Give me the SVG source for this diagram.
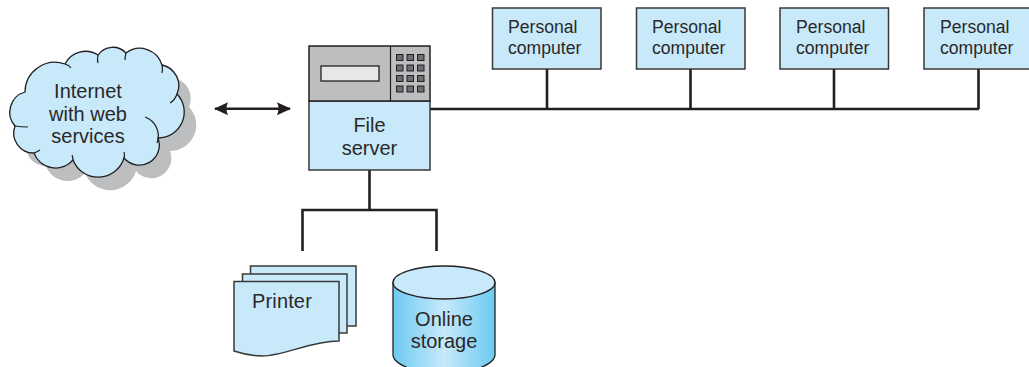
<svg xmlns="http://www.w3.org/2000/svg" width="1029" height="367" viewBox="0 0 1029 367">
<style>
.t{font-family:"Liberation Sans",Arial,sans-serif;font-size:20px;fill:#2b2829;text-anchor:middle}
.pc{font-family:"Liberation Sans",Arial,sans-serif;font-size:17.6px;fill:#2b2829}
.b{fill:#c7e9fa;stroke:#3a3839;stroke-width:1.5}
.g{fill:#bcbec0;stroke:#231f20;stroke-width:1.5}
.k{fill:#6d6e71;stroke:#231f20;stroke-width:1}
.c{fill:none;stroke:#231f20;stroke-width:2.6}
.s{fill:none;stroke:#231f20;stroke-width:1.2}
</style>
<defs>
<path id="cl" d="M25,92A30,30 0 0 1 65,64A23,23 0 0 1 98,55A18,18 0 0 1 126,53A23,23 0 0 1 162,65A21,21 0 0 1 177,94A26,26 0 0 1 158,138A20,20 0 0 1 124,158A27,27 0 0 1 73,160A23,23 0 0 1 34,153A20,20 0 0 1 15,126A21,21 0 0 1 25,92Z"/>
<linearGradient id="cy" x1="0" x2="1" y1="0" y2="0"><stop offset="0" stop-color="#6ccaf1"/><stop offset=".5" stop-color="#c7e9fa"/><stop offset="1" stop-color="#6ccaf1"/></linearGradient>
<marker id="ah" viewBox="0 0 14 14" refX="13" refY="7" markerWidth="14" markerHeight="14" markerUnits="userSpaceOnUse" orient="auto-start-reverse"><path d="M0,0.500L14,7L0,13.500Q3,7 0,0.500Z" fill="#231f20"/></marker>
</defs>
<g id="connectors">
<path class="c" d="M430,109H979M547,69V109M690.500,69V109M834,69V109M978.500,69V109"/>
<path class="c" d="M369.500,170V210M302.500,251V210H436.500V251"/>
<path class="c" d="M215,108.700H290" marker-start="url(#ah)" marker-end="url(#ah)"/>
</g>
<g id="cloud">
<use href="#cl" x="12" y="13" fill="#bcbec0"/>
<use href="#cl" fill="#c7e9fa" stroke="#231f20" stroke-width="1.300"/>
<path class="s" d="M65,64Q69,65 71,68M98,55Q97,60 98,63M126,53Q125,57 125,60M162,65Q163,69 162,73M177,94Q175,100 170,103M145,117A20,20 0 0 1 157,143M124,158Q125,155 124,152M73,160Q73,157 72,155M34,153Q37,152 40,150M15,126Q21,127 28,127"/>
<text class="t" x="88" y="98">Internet</text>
<text class="t" x="88" y="120.500">with web</text>
<text class="t" x="88" y="143">services</text>
</g>
<g id="file-server">
<rect class="b" x="309" y="101" width="121" height="69"/>
<rect class="g" x="309" y="46" width="121" height="55"/>
<path class="s" d="M390.500,46V101"/>
<rect x="321" y="66" width="58" height="15" fill="#e6e7e8" stroke="#231f20" stroke-width="1.300"/>
<g>
<rect class="k" x="396.500" y="54.500" width="6.500" height="6"/><rect class="k" x="407" y="54.500" width="6.500" height="6"/><rect class="k" x="417.500" y="54.500" width="6.500" height="6"/>
<rect class="k" x="396.500" y="65" width="6.500" height="6"/><rect class="k" x="407" y="65" width="6.500" height="6"/><rect class="k" x="417.500" y="65" width="6.500" height="6"/>
<rect class="k" x="396.500" y="75.500" width="6.500" height="6"/><rect class="k" x="407" y="75.500" width="6.500" height="6"/><rect class="k" x="417.500" y="75.500" width="6.500" height="6"/>
<rect class="k" x="396.500" y="86" width="6.500" height="6"/><rect class="k" x="407" y="86" width="6.500" height="6"/><rect class="k" x="417.500" y="86" width="6.500" height="6"/>
</g>
<text class="t" x="369.500" y="132">File</text>
<text class="t" x="369.500" y="155">server</text>
</g>
<g id="pc1"><rect class="b" x="492.500" y="8" width="108.500" height="61"/><text class="pc" x="508" y="33">Personal</text><text class="pc" x="508" y="54">computer</text></g>
<g id="pc2"><rect class="b" x="636.500" y="8" width="108.500" height="61"/><text class="pc" x="652" y="33">Personal</text><text class="pc" x="652" y="54">computer</text></g>
<g id="pc3"><rect class="b" x="780" y="8" width="108.500" height="61"/><text class="pc" x="796" y="33">Personal</text><text class="pc" x="796" y="54">computer</text></g>
<g id="pc4"><rect class="b" x="924" y="8" width="108.500" height="61"/><text class="pc" x="940" y="33">Personal</text><text class="pc" x="940" y="54">computer</text></g>
<g id="printer">
<rect class="b" x="250.500" y="266" width="105.500" height="60"/>
<rect class="b" x="242.500" y="274" width="104.500" height="59"/>
<path class="b" d="M234,281.500H339V341C310,341 285,356 262,356C250,356 243,354 234,351Z"/>
<text class="t" x="252" y="308" style="text-anchor:start;letter-spacing:.15px">Printer</text>
</g>
<g id="online-storage">
<path d="M393,282.500V355C393,361 403,367 415,370H473C485,367 495,361 495,355V282.500Z" fill="url(#cy)" stroke="#231f20" stroke-width="1.300"/>
<ellipse cx="444" cy="282.500" rx="51" ry="16.500" fill="#c7e9fa" stroke="#231f20" stroke-width="1.300"/>
<text class="t" x="444" y="326">Online</text>
<text class="t" x="444" y="348">storage</text>
</g>
</svg>
